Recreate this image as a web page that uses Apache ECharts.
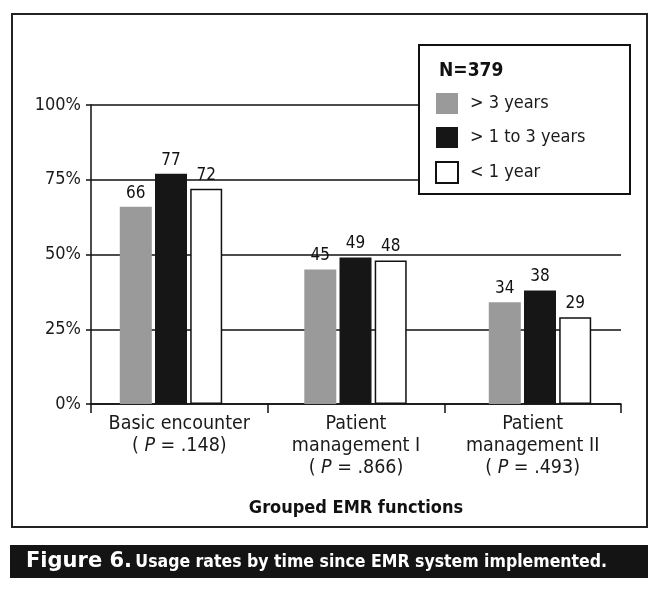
<!DOCTYPE html>
<html>
<head>
<meta charset="utf-8">
<script src="https://cdn.jsdelivr.net/npm/echarts@6/dist/echarts.min.js"></script>
<style>
html,body{margin:0;padding:0;background:#fff;}
#c{width:658px;height:595px;}
</style>
</head>
<body>
<div id="c"></div>
<script>
var categories = ['Basic encounter\n( {i|P} = .148)', 'Patient\nmanagement I\n( {i|P} = .866)', 'Patient\nmanagement II\n( {i|P} = .493)'];
var seriesNames = ['> 3 years', '> 1 to 3 years', '< 1 year'];
var over3 = [66, 45, 34];
var oneTo3 = [77, 49, 38];
var under1 = [72, 48, 29];
var yTicks = [0, 25, 50, 75, 100];

var FONT = '"DejaVu Sans Condensed", "DejaVu Sans", sans-serif';
var chart = echarts.init(document.getElementById('c'), null, {renderer: 'canvas'});

function barSeries(name, data, color, border) {
  return {
    name: name, type: 'bar', xAxisIndex: 1, yAxisIndex: 1,
    data: data, barWidth: 32, barGap: '10%',
    itemStyle: {color: color, borderColor: border ? '#111' : color, borderWidth: border ? 1.5 : 0},
    label: {show: true, position: 'top', distance: 5, color: '#111', fontFamily: FONT, fontSize: 17},
    emphasis: {disabled: true},
    animation: false
  };
}

chart.setOption({
  backgroundColor: '#fff',
  animation: false,
  grid: [
    {left: 91, right: 37, top: 105, bottom: 191, containLabel: false},
    {left: 78.75, right: 25.75, top: 105, bottom: 191, containLabel: false}
  ],
  xAxis: [
    {
      type: 'category', gridIndex: 0, data: categories,
      axisLine: {lineStyle: {color: '#111', width: 1.5}},
      axisTick: {show: true, interval: 0, length: 9, alignWithLabel: false, lineStyle: {color: '#111', width: 1.5}},
      axisLabel: {
        interval: 0, hideOverlap: false,
        margin: 9, color: '#1a1a1a', fontFamily: FONT, fontSize: 19.5, lineHeight: 22,
        rich: {i: {fontStyle: 'italic', fontFamily: FONT, fontSize: 19.5, color: '#1a1a1a', lineHeight: 22}}
      },
      name: 'Grouped EMR functions', nameLocation: 'middle', nameGap: 95,
      nameTextStyle: {fontFamily: FONT, fontWeight: 'bold', fontSize: 18, color: '#111'}
    },
    {type: 'category', gridIndex: 1, data: categories, show: false}
  ],
  yAxis: [
    {
      type: 'value', gridIndex: 0, min: 0, max: 100, interval: 25,
      axisLine: {show: true, lineStyle: {color: '#111', width: 1.5}},
      axisTick: {show: true, length: 5, lineStyle: {color: '#111', width: 1.5}},
      splitLine: {show: true, lineStyle: {color: '#111', width: 1.5}},
      axisLabel: {
        margin: 10, color: '#1a1a1a', fontFamily: FONT, fontSize: 18,
        formatter: function (v) { return yTicks.indexOf(v) >= 0 ? v + '%' : ''; }
      }
    },
    {type: 'value', gridIndex: 1, min: 0, max: 100, show: false}
  ],
  legend: {
    orient: 'vertical', left: 435, top: 93, padding: 0,
    itemWidth: 22, itemHeight: 21, itemGap: 13, icon: 'rect',
    data: seriesNames, selectedMode: false, z: 100,
    textStyle: {fontFamily: FONT, fontSize: 18, color: '#1a1a1a', padding: [0, 0, 0, 7]}
  },
  graphic: [
    {type: 'rect', z: 1, silent: true, shape: {x: 12, y: 14, width: 635, height: 513},
     style: {fill: 'none', stroke: '#222', lineWidth: 2}},
    {type: 'rect', z: 50, silent: true, shape: {x: 419, y: 45, width: 211, height: 149},
     style: {fill: '#fff', stroke: '#111', lineWidth: 2}},
    {type: 'text', z: 100, silent: true, x: 439, y: 71,
     style: {text: 'N=379', fill: '#111', fontFamily: FONT, fontWeight: 'bold', fontSize: 19, verticalAlign: 'middle'}},
    {type: 'rect', z: 1, silent: true, shape: {x: 10, y: 545, width: 638, height: 33},
     style: {fill: '#141414'}},
    {type: 'text', z: 2, silent: true, x: 26, y: 562,
     style: {
       text: '{a|Figure 6.} {b|Usage rates by time since EMR system implemented.}',
       verticalAlign: 'middle',
       rich: {
         a: {fill: '#fff', fontFamily: '"DejaVu Sans", sans-serif', fontWeight: 'bold', fontSize: 21},
         b: {fill: '#fff', fontFamily: FONT, fontWeight: 'bold', fontSize: 17.5}
       }
     }}
  ],
  series: [
    barSeries(seriesNames[0], over3, '#9a9a9a', false),
    barSeries(seriesNames[1], oneTo3, '#161616', false),
    barSeries(seriesNames[2], under1, '#ffffff', true)
  ]
});
</script>
</body>
</html>
